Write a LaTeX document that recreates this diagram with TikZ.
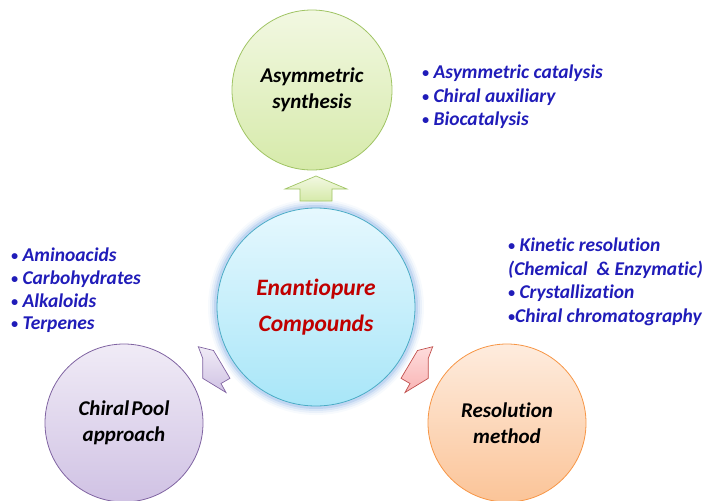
\documentclass[tikz,border=0pt]{standalone}
\usepackage{fontspec}
\setmainfont{Carlito}[Ligatures=NoCommon]
\definecolor{synthline}{RGB}{160,196,100}
\definecolor{synthtop}{RGB}{242,248,226}
\definecolor{synthbot}{RGB}{214,234,170}
\definecolor{hubline}{RGB}{75,172,198}
\definecolor{hubtop}{RGB}{230,248,254}
\definecolor{hubbot}{RGB}{168,230,248}
\definecolor{hubglow}{RGB}{120,165,225}
\definecolor{poolline}{RGB}{128,100,162}
\definecolor{pooltop}{RGB}{240,235,246}
\definecolor{poolbot}{RGB}{208,194,228}
\definecolor{resline}{RGB}{247,150,70}
\definecolor{restop}{RGB}{254,236,222}
\definecolor{resbot}{RGB}{251,196,152}
\definecolor{arrred}{RGB}{192,80,77}
\definecolor{arrredtop}{RGB}{254,220,220}
\definecolor{arrredbot}{RGB}{249,180,180}
\definecolor{listblue}{RGB}{32,28,185}
\definecolor{hubred}{RGB}{192,0,0}
\newcommand{\dotb}{{\fontsize{14}{14}\selectfont\raisebox{1.2pt}{\textbullet}}}

\begin{document}
\begin{tikzpicture}[x=1pt, y=-1pt,
    bubble/.style={circle, draw, line width=0.8pt, minimum size=158pt, inner sep=0pt, align=center, font=\fontsize{21}{25.5}\selectfont\bfseries\itshape},
    notes/.style={anchor=north west, inner sep=0pt, align=left, text=listblue, font=\fontsize{19.5}{23.5}\selectfont\bfseries\itshape},
    blockarr/.style={line width=0.7pt, line join=miter}
  ]
    \useasboundingbox (0,0) rectangle (705,501);

    % glow round the centre circle
    \coordinate (hubc) at (316,307);
    \foreach \w/\o in {18/0.06, 14/0.1, 10/0.15, 6/0.25} {
      \draw[hubglow, opacity=\o, line width=\w pt] (hubc) circle (99);
    }

    \node[bubble, draw=hubline, top color=hubtop, bottom color=hubbot, minimum size=198pt, text=hubred, font=\fontsize{23.5}{36}\selectfont\bfseries\itshape] (hub) at (hubc) {Enantiopure\\Compounds};

    \node[bubble, draw=synthline, top color=synthtop, bottom color=synthbot, minimum size=160pt] (asym) at (312,90) {Asymmetric\\synthesis};
    \node[bubble, draw=poolline, top color=pooltop, bottom color=poolbot] (pool) at (124,423) {Chiral\kern2pt Pool\\approach};
    \node[bubble, draw=resline, top color=restop, bottom color=resbot] (resol) at (507,423) {Resolution\\method};

    % block arrows
    \draw[blockarr, draw=synthline, top color=synthtop, bottom color=synthbot]
      (316,176) -- (347,189) -- (332,189) -- (332,201) -- (300,201) -- (300,189) -- (285,189) -- cycle;
    \draw[blockarr, draw=poolline, top color=pooltop, bottom color=poolbot]
      (198.3,346.7) -- (213.5,350.5) -- (230,378.3) -- (221,383.5) -- (226,392.5) -- (202.7,378.3) -- (202.7,358.3) -- cycle;
    \draw[blockarr, draw=arrred, top color=arrredtop, bottom color=arrredbot]
      (432.7,346.7) -- (417.5,350.5) -- (401,378.3) -- (410,383.5) -- (405,392.5) -- (428.3,378.3) -- (428.3,358.3) -- cycle;

    % lists
    \node[notes] (synthlist) at (422,65) {\dotb\ Asymmetric catalysis\\\dotb\ Chiral auxiliary\\\dotb\ Biocatalysis};
    \node[notes, font=\fontsize{19.5}{22.7}\selectfont\bfseries\itshape] (poollist) at (11,248) {\dotb\ Aminoacids\\\dotb\ Carbohydrates\\\dotb\ Alkaloids\\\dotb\ Terpenes};
    \node[notes] (reslist) at (508,238) {\dotb\ Kinetic resolution\\(Chemical \ \& Enzymatic)\\\dotb\ Crystallization\\\dotb Chiral chromatography};
  \end{tikzpicture}
\end{document}
